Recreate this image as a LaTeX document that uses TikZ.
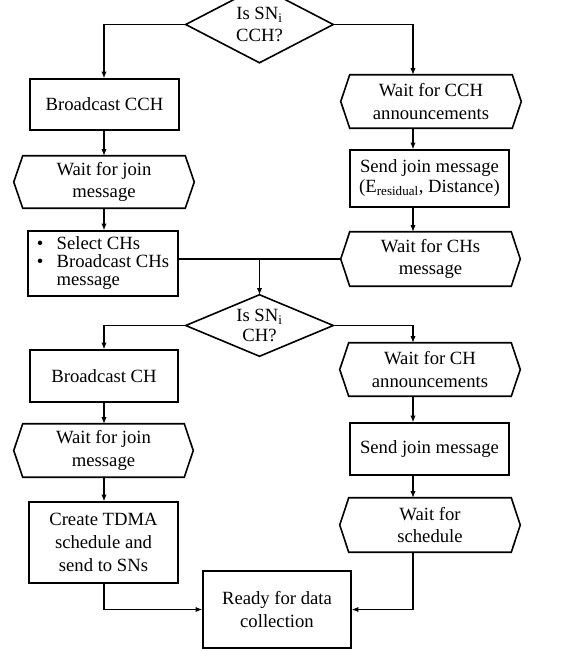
\documentclass[tikz,border=0pt]{standalone}
\usepackage{fontspec}
\setmainfont{Liberation Serif}
\usetikzlibrary{arrows.meta,calc}
\newcommand\hexdraw[1]{\draw[shapeline] (#1.west) -- ([xshift=9*0.75pt]#1.north west) -- ([xshift=-9*0.75pt]#1.north east) -- (#1.east) -- ([xshift=-9*0.75pt]#1.south east) -- ([xshift=9*0.75pt]#1.south west) -- cycle;}
\newcommand\diadraw[1]{\draw[shapeline] (#1.west) -- (#1.north) -- (#1.east) -- (#1.south) -- cycle;}
\begin{document}
\begin{tikzpicture}[x=0.75pt,y=-0.75pt,
  every node/.style={font=\fontsize{14}{17}\selectfont, align=center, inner sep=0pt},
  shapeline/.style={line width=1.2pt, line join=miter},
  rbox/.style={draw, line width=1.2pt},
  conn/.style={line width=0.8pt},
  arr/.style={line width=0.8pt, -{Latex[length=5pt,width=4pt]}}]
\useasboundingbox (0,0) rectangle (576,651);
\fill[white] (0,0) rectangle (576,651);
\clip (0,0) rectangle (576,651);

% first diamond
\node[minimum width=147*0.75pt, minimum height=76*0.75pt] (d1) at (259.5,24.5) {Is SN\textsubscript{i}\\CCH?};
\diadraw{d1}

% upper left column
\node[rbox, minimum width=149*0.75pt, minimum height=51*0.75pt] (b1) at (104.5,104.5) {Broadcast CCH};
\node[minimum width=180*0.75pt, minimum height=52*0.75pt] (h2) at (104,182) {Wait for join\\message};
\hexdraw{h2}
\node[rbox, minimum width=150*0.75pt, minimum height=65*0.75pt] (b3) at (103,263.5)
  {\renewcommand\arraystretch{0.78}\begin{tabular}{@{}l@{\hspace{10pt}}l@{}}\textbullet & Select CHs\\ \textbullet & Broadcast CHs\\ & message\end{tabular}};

% upper right column
\node[minimum width=180*0.75pt, minimum height=53*0.75pt] (h1) at (431,101.5) {Wait for CCH\\announcements};
\hexdraw{h1}
\node[rbox, minimum width=159*0.75pt, minimum height=57*0.75pt] (b2) at (429.5,178.5) {Send join message\\[-2pt](E\textsubscript{residual}, Distance)};
\node[minimum width=179*0.75pt, minimum height=54*0.75pt] (h3) at (430.5,259) {Wait for CHs\\message};
\hexdraw{h3}

% second diamond
\node[minimum width=147*0.75pt, minimum height=61*0.75pt] (d2) at (259.5,325.5) {Is SN\textsubscript{i}\\[-2pt]CH?};
\diadraw{d2}

% lower left column
\node[rbox, minimum width=148*0.75pt, minimum height=52*0.75pt] (b4) at (104,376) {Broadcast CH};
\node[minimum width=179*0.75pt, minimum height=53*0.75pt] (h5) at (103.5,450.5) {Wait for join\\message};
\hexdraw{h5}
\node[rbox, minimum width=149*0.75pt, minimum height=81*0.75pt] (b6) at (103.5,542.5) {Create TDMA\\schedule and\\send to SNs};

% lower right column
\node[minimum width=180*0.75pt, minimum height=53*0.75pt] (h4) at (430,369.5) {Wait for CH\\announcements};
\hexdraw{h4}
\node[rbox, minimum width=159*0.75pt, minimum height=52*0.75pt] (b5) at (429.5,449) {Send join message};
\node[minimum width=180*0.75pt, minimum height=54*0.75pt] (h6) at (430,525) {Wait for\\schedule};
\hexdraw{h6}

% final box
\node[rbox, minimum width=148*0.75pt, minimum height=77*0.75pt] (b7) at (277,609.5) {Ready for data\\collection};

% connectors
\coordinate (L) at (104,0);
\coordinate (R) at (413,0);
\draw[arr] (d1.west) -| (L |- b1.north);
\draw[arr] (d1.east) -| (R |- h1.north);
\draw[arr] (L |- b1.south) -- (L |- h2.north);
\draw[arr] (L |- h2.south) -- (L |- b3.north);
\draw[arr] (R |- h1.south) -- (R |- b2.north);
\draw[arr] (R |- b2.south) -- (R |- h3.north);
\draw[conn] (b3.east |- h3.west) -- (h3.west);
\draw[arr] (d2.north |- h3.west) -- (d2.north);
\draw[arr] (d2.west) -| (L |- b4.north);
\draw[arr] (d2.east) -| (R |- h4.north);
\draw[arr] (L |- b4.south) -- (L |- h5.north);
\draw[arr] (L |- h5.south) -- (L |- b6.north);
\draw[arr] (R |- h4.south) -- (R |- b5.north);
\draw[arr] (R |- b5.south) -- (R |- h6.north);
\draw[arr] (L |- b6.south) |- (b7.west);
\draw[arr] (R |- h6.south) |- (b7.east);
\end{tikzpicture}
\end{document}
